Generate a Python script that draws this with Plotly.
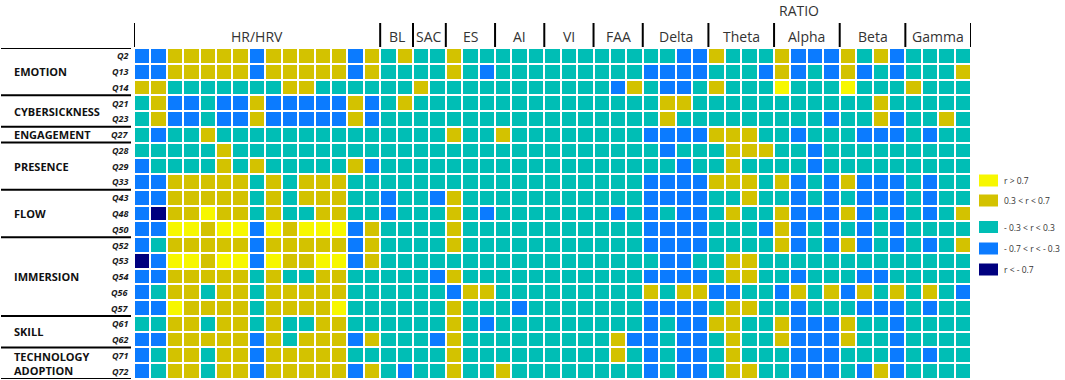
import plotly.graph_objects as go

# ---------------- data ----------------
questions = ["Q2", "Q13", "Q14", "Q21", "Q23", "Q27", "Q28", "Q29", "Q33", "Q43", "Q48",
             "Q50", "Q52", "Q53", "Q54", "Q56", "Q57", "Q61", "Q62", "Q71", "Q72"]
groups = ["EMOTION", "CYBERSICKNESS", "ENGAGEMENT", "PRESENCE", "FLOW", "IMMERSION",
          "SKILL", "TECHNOLOGY<br>ADOPTION"]
group_sizes = [3, 2, 1, 3, 3, 5, 2, 2]
features = ["HR/HRV", "BL", "SAC", "ES", "AI", "VI", "FAA", "Delta", "Theta", "Alpha", "Beta", "Gamma"]
feature_sizes = [15, 2, 2, 3, 3, 3, 3, 4, 4, 4, 4, 4]
legend_labels = ["r > 0.7", "0.3 < r < 0.7", "- 0.3 < r < 0.3", "- 0.7 < r < - 0.3", "r < - 0.7"]

# Y: r>0.7, y: 0.3..0.7, c: -0.3..0.3, b: -0.7..-0.3, n: r<-0.7
# groups: HR/HRV | BL | SAC | ES | AI | VI | FAA | Delta | Theta | Alpha | Beta | Gamma
rows = [
    "bbyyyyybyyyyyby cy cc ycc ccc ccc ccc ccbb yccc ybbb ycyb cccc",  # Q2
    "bbyyyyybyyyyyby cc cc ycb ccc ccc ccc bbbb cccb ybcb ybcb cccy",  # Q13
    "yycccccccyycccc cc yc ccc ccc ccc cby cbbc yccc Yccc Yccc yccc",  # Q14
    "cybbcbbybbbbbyb cy cc ccc ccc ccc ccc cyyc cccc cccc ccyc cccc",  # Q21
    "cybbcbbybbbbbyb cc cc ccc ccc ccc ccc cycc cccc cccb ccyb ccyc",  # Q23
    "cbccycccccccccc cc cc ycc ycc ccc ccc bbbb yyyc cbcc cbbb cbcc",  # Q27
    "cccccyccccccccc cc cc ccc ccc ccc ccc cbcc cyyy ccbc cccc cccc",  # Q28
    "bccccycycccccyb cc cc ccc ccc ccc ccc ccbc cycc ccbc cccc cccc",  # Q29
    "bbyyyyycycyyycc cc cc ccc ccc ccc ccc bbbb yyyc ybcb ybbb cbcc",  # Q33
    "bbyyyyycycyyycc bc cb ycc ccc ccc ccc bbbb ccyc cbcb cbbb cbcc",  # Q43
    "bnyyYyycyccyycc bc cc ycb ccc ccc cbc bcbb cycc ybbb ybcb cbcy",  # Q48
    "bbYYyYYbYyYYYby cc cc ycc ccc ccc ccc bbbb cccb ybcb cbcb cccc",  # Q50
    "bcyyyyybyyyyyby cc cc ycc ccc ccc ccc bbbb cccc ybcb ybcb cbcy",  # Q52
    "nbYYyYYbYyyYYby cc cc ccc ccc ccc ccc cbbc cyyc cccc cccc cccc",  # Q53
    "bbyyyyycyccyycc cc cb ycc ccc ccc ccc bbbb cyyc cbcc cbbc cccc",  # Q54
    "bcyycyycyyyyycc cc cc byy ccc ccc ccc ycyy bbcc bycy bycy cycb",  # Q56
    "bbYyyyycyyyyYcc cc cc ycc cbc ccc ccc bbbb cyyc cbcc cbbb cbcc",  # Q57
    "ccyycyycyccyycc cc cc ycb ccc ccc ccc bcbb yycc ybbb yccb cccc",  # Q61
    "bbyyyyybycyyyby cc cb ycc ccc ccc cyb bcbb cycc ybbb yccb cccc",  # Q62
    "bcyycyybyyyyycc cc cc ycc ccc ccc cyc bcbb cycc cbbb cccb cbcc",  # Q71
    "bcyycyybyyyyyby cb cc ycc ycc ccc ccc bcbb cyyc cbbb cbyb cccc",  # Q72
]
code_value = {"Y": 2, "y": 1, "c": 0, "b": -1, "n": -2}
# --------------------------------------

z = [[code_value[ch] for ch in r.replace(" ", "")] for r in rows]
ncol = len(z[0])
nrow = len(z)

C_Y, C_y, C_c, C_b, C_n = "#F7F700", "#D3C200", "#00BEB5", "#0B7BFF", "#00007F"
colorscale = [
    [0.0, C_n], [0.125, C_n], [0.125, C_b], [0.375, C_b], [0.375, C_c],
    [0.625, C_c], [0.625, C_y], [0.875, C_y], [0.875, C_Y], [1.0, C_Y],
]

W, H = 1065, 380
ML, MR, MT, MB = 134, 94, 48, 1
PW, PH = W - ML - MR, H - MT - MB


def py2paper(py):
    return 1 - (py - MT) / PH


def px2paper(px):
    return (px - ML) / PW


fig = go.Figure(go.Heatmap(
    z=z, x=list(range(ncol)), y=list(range(nrow)),
    colorscale=colorscale, zmin=-2, zmax=2, showscale=False,
    xgap=2, ygap=2, hoverinfo="skip",
))

shapes = []
annotations = []
FONT = "Open Sans"

# header separators and labels
start = 0
bounds = [start]
for name, n in zip(features, feature_sizes):
    annotations.append(dict(
        x=start + n / 2 - 0.5, y=py2paper(36), xref="x", yref="paper",
        text=name, showarrow=False, xanchor="center", yanchor="middle",
        font=dict(family=FONT, size=14, color="#333333")))
    start += n
    bounds.append(start)
for b in bounds:
    shapes.append(dict(type="line", xref="x", yref="paper",
                       x0=b - 0.5, x1=b - 0.5, y0=py2paper(23), y1=py2paper(47),
                       line=dict(color="black", width=2)))
annotations.append(dict(
    x=px2paper(799), y=py2paper(10), xref="paper", yref="paper", text="RATIO",
    showarrow=False, xanchor="center", yanchor="middle",
    font=dict(family=FONT, size=14, color="#333333")))

# row labels
for i, q in enumerate(questions):
    annotations.append(dict(
        x=px2paper(131), y=i, xref="paper", yref="y", text="<b><i>" + q + "</i></b>",
        showarrow=False, xanchor="right", yanchor="middle",
        font=dict(family=FONT, size=9, color="#1a1a1a")))

# group labels and separators
r0 = 0
gb = [0]
for g, n in zip(groups, group_sizes):
    annotations.append(dict(
        x=px2paper(12), y=r0 + n / 2 - 0.5, xref="paper", yref="y",
        text="<b>" + g + "</b>", showarrow=False, xanchor="left", yanchor="middle",
        align="left", font=dict(family=FONT, size=11, color="#111111")))
    r0 += n
    gb.append(r0)
for b in gb:
    shapes.append(dict(type="line", xref="paper", yref="y",
                       x0=px2paper(1), x1=px2paper(131), y0=b - 0.5, y1=b - 0.5,
                       line=dict(color="black", width=2)))

# legend
leg_colors = [C_Y, C_y, C_c, C_b, C_n]
leg_tops = [174.5, 194.5, 221, 242.5, 263.5]
for col, top, lab in zip(leg_colors, leg_tops, legend_labels):
    shapes.append(dict(type="rect", xref="paper", yref="paper",
                       x0=px2paper(979), x1=px2paper(998), y0=py2paper(top), y1=py2paper(top + 12),
                       fillcolor=col, line=dict(width=0)))
    annotations.append(dict(
        x=px2paper(1002), y=py2paper(top + 6), xref="paper", yref="paper", text=lab,
        showarrow=False, xanchor="left", yanchor="middle",
        font=dict(family=FONT, size=8.5, color="#333333")))

fig.update_layout(
    width=W, height=H, margin=dict(l=ML, r=MR, t=MT, b=MB),
    paper_bgcolor="white", plot_bgcolor="white",
    xaxis=dict(range=[-0.5, ncol - 0.5], visible=False, fixedrange=True),
    yaxis=dict(range=[nrow - 0.5, -0.5], visible=False, fixedrange=True),
    shapes=shapes, annotations=annotations, showlegend=False,
)

fig.write_html("out.html", config={"displayModeBar": False},
               post_script="document.body.style.margin='0';document.body.style.overflow='hidden';")
